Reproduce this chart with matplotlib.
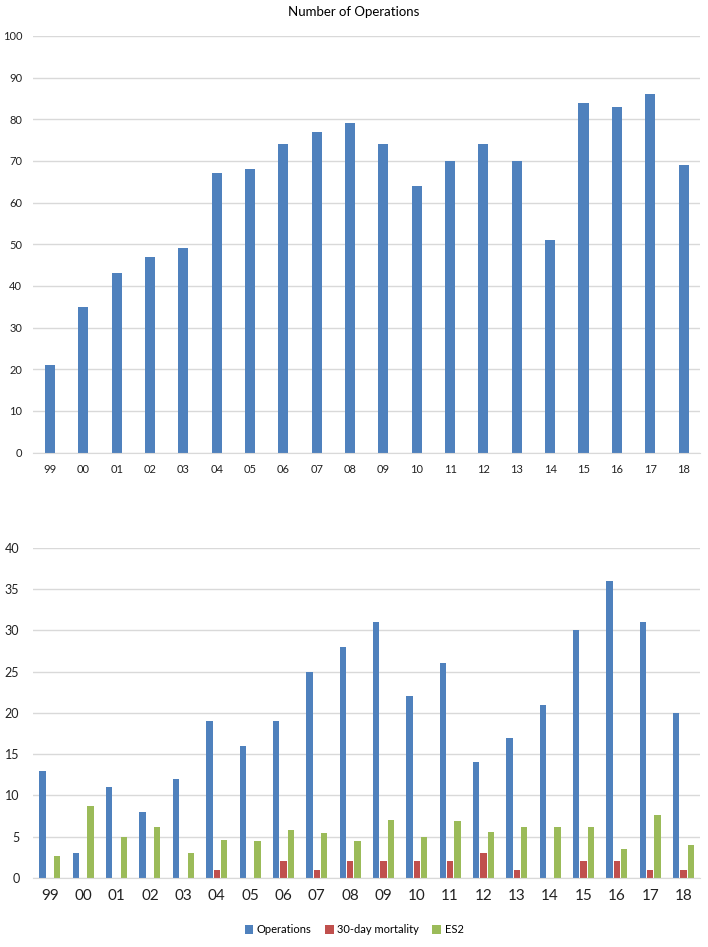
import numpy as np
import matplotlib.pyplot as plt

plt.rcParams['font.family'] = ['Lato', 'DejaVu Sans']

years = ["99", "00", "01", "02", "03", "04", "05", "06", "07", "08",
         "09", "10", "11", "12", "13", "14", "15", "16", "17", "18"]
total_ops = [21, 35, 43, 47, 49, 67, 68, 74, 77, 79,
             74, 64, 70, 74, 70, 51, 84, 83, 86, 69]
operations = [13, 3, 11, 8, 12, 19, 16, 19, 25, 28,
              31, 22, 26, 14, 17, 21, 30, 36, 31, 20]
mortality = [0, 0, 0, 0, 0, 1, 0, 2, 1, 2,
             2, 2, 2, 3, 1, 0, 2, 2, 1, 1]
es2 = [2.6, 8.75, 5.0, 6.15, 3.0, 4.6, 4.45, 5.85, 5.45, 4.45,
       7.0, 5.0, 6.9, 5.6, 6.15, 6.15, 6.15, 3.55, 7.6, 4.0]

BLUE = "#4F81BD"
RED = "#C0504D"
GREEN = "#9BBB59"
GRID = "#D9D9D9"


def style(ax, ymax, step, tick_size):
    ax.set_xlim(-0.5, len(years) - 0.5)
    ax.set_ylim(0, ymax)
    ax.set_yticks(np.arange(0, ymax + 1, step))
    ax.set_xticks(np.arange(len(years)))
    ax.set_xticklabels(years)
    ax.grid(axis="y", color=GRID, linewidth=1)
    ax.set_axisbelow(True)
    for s in ["top", "right", "left"]:
        ax.spines[s].set_visible(False)
    ax.spines["bottom"].set_color(GRID)
    ax.tick_params(axis="both", length=0, colors="#222222")
    ax.tick_params(axis="y", labelsize=8, pad=8)
    ax.tick_params(axis="x", labelsize=tick_size, pad=8)


fig = plt.figure(figsize=(7.08, 9.47), dpi=100)

x = np.arange(len(years))

ax1 = fig.add_axes([0.047, 0.522, 0.942, 0.440])
ax1.bar(x, total_ops, width=0.3, color=BLUE)
style(ax1, 100, 10, 8)
fig.text(0.5, 0.987, "Number of Operations", ha="center", va="center", fontsize=9.5)

ax2 = fig.add_axes([0.047, 0.073, 0.942, 0.3485])
w = 0.19
ax2.bar(x - 0.22, operations, width=w, color=BLUE, label="Operations")
ax2.bar(x, mortality, width=w, color=RED, label="30-day mortality")
ax2.bar(x + 0.22, es2, width=w, color=GREEN, label="ES2")
style(ax2, 40, 5, 11)
ax2.tick_params(axis="y", labelsize=9, pad=10)

fig.legend(*ax2.get_legend_handles_labels(), loc="center", bbox_to_anchor=(0.5, 0.018),
           ncol=3, frameon=False, fontsize=8, handlelength=0.8, handleheight=0.8,
           handletextpad=0.3, columnspacing=1.2)

fig.savefig("out.png", dpi=100)
